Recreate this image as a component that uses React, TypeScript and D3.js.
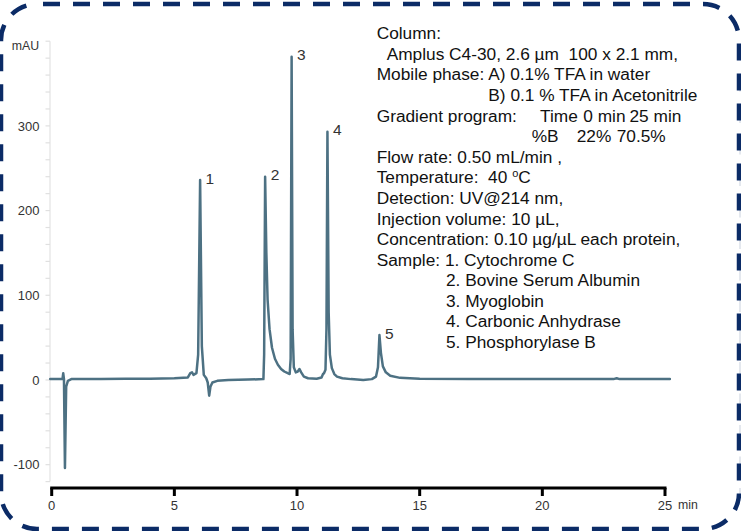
import React from "react";
import * as d3 from "d3";

// ---- data ----
const traceTimes = [
  -0.06, 0.44, 0.47, 0.5, 0.54, 0.59, 0.66, 0.8, 2.0, 3.0, 4.0, 5.0, 5.55, 5.65, 5.72, 5.78, 5.9, 5.97,
  6.05, 6.12, 6.2, 6.3, 6.36, 6.42, 6.47, 6.55, 6.75, 7.2, 8.0, 8.63, 8.66, 8.7, 8.75, 8.8, 8.88, 8.98,
  9.1, 9.22, 9.35, 9.48, 9.62, 9.7, 9.74, 9.78, 9.82, 9.87, 9.95, 10.03, 10.1, 10.17, 10.28, 10.45, 10.8,
  11.0, 11.06, 11.1, 11.16, 11.2, 11.24, 11.29, 11.34, 11.42, 11.52, 11.63, 11.85, 12.2, 12.7, 13.05,
  13.22, 13.3, 13.36, 13.42, 13.5, 13.62, 13.8, 14.2, 15.0, 17.0, 20.0, 22.9, 23.03, 23.15, 25.2,
];
const traceValues = [
  1, 1, 8, 1, -104, -8, -1, 1, 1, 1.5, 1.5, 2, 3, 8, 9, 6, 8, 30,
  236, 40, 6, 2, -3, -18.5, -8, -3, -1, 0, 0.5, 1, 30, 240, 150, 95, 60, 38,
  25, 18, 13, 10, 8, 7, 25, 381.7, 60, 15, 9, 10, 13, 9, 4, 2, 1.5,
  3, 7, 8, 12, 60, 293, 80, 30, 14, 7, 4, 2, 1, 0, 1,
  4, 15, 53, 32, 16, 9, 5, 2.5, 1.5, 1, 1, 1, 2, 1, 1,
];

const peakNumbers = ["1", "2", "3", "4", "5"];
const peakTimes = [6.05, 8.7, 9.78, 11.24, 13.36];
const peakHeights = [236, 240, 381.7, 293, 53];

const xTicks = [0, 5, 10, 15, 20, 25];
const yTicks = [300, 200, 100, 0, -100];
const yMinorTicks = d3.range(-120, 401, 20);
const xUnit = "min";
const yUnit = "mAU";

const conditionLines = [
  "Column:",
  "Amplus C4-30, 2.6 µm  100 x 2.1 mm,",
  "Mobile phase: A) 0.1% TFA in water",
  "B) 0.1 % TFA in Acetonitrile",
  "Gradient program:",
  "",
  "Flow rate: 0.50 mL/min ,",
  "Temperature:  40 ",
  "Detection: UV@214 nm,",
  "Injection volume: 10 µL,",
  "Concentration: 0.10 µg/µL each protein,",
  "Sample: 1. Cytochrome C",
  "2. Bovine Serum Albumin",
  "3. Myoglobin",
  "4. Carbonic Anhydrase",
  "5. Phosphorylase B",
];
const gradientHeader = ["Time", "0 min", "25 min"];
const gradientB = ["%B", "22%", "70.5%"];

// ---- layout ----
const W = 741;
const H = 531;
const FONT = "'Liberation Sans', Arial, sans-serif";
const conditionIndents = [0, 10, 0, 111.6, 0, 0, 0, 0, 0, 0, 0, 0, 69.3, 69.3, 69.3, 69.3];
const gradientHeaderX = [540, 583.3, 629.5];
const gradientBX = [531.7, 576.7, 616.7];

export default function App() {
  const x = d3.scaleLinear().domain([0, 25]).range([51.7, 665]);
  const y = d3.scaleLinear().domain([-120, 400]).range([481.6, 41.2]);

  const pts: [number, number][] = traceTimes.map((t, i) => [t, traceValues[i]]);
  const line = d3
    .line<[number, number]>()
    .x((d) => x(d[0]))
    .y((d) => y(d[1]))
    .curve(d3.curveLinear);

  const textX0 = 376.7;
  const textY0 = 39.3;
  const lineGap = 20.58;

  const sideMarks = d3.range(47, 495, 31.5);

  return (
    <svg
      width={W}
      height={H}
      viewBox={`0 0 ${W} ${H}`}
      style={{ position: "fixed", left: 0, top: 0, background: "#fff" }}
      fontFamily={FONT}
    >
      <rect x={0} y={0} width={W} height={H} fill="#fff" />

      {/* faint marks at the right edge */}
      {sideMarks.map((m, i) => (
        <rect key={i} x={739} y={m} width={2} height={13} fill="#e4e8ee" />
      ))}

      {/* y axis (light) */}
      <line x1={50} x2={50} y1={y(400)} y2={y(-120)} stroke="#e3e3e3" strokeWidth={1.2} />
      {yMinorTicks.map((v) => (
        <line key={v} x1={45.5} x2={50} y1={y(v)} y2={y(v)} stroke="#e0e0e0" strokeWidth={1.2} />
      ))}
      {yTicks.map((v) => (
        <text key={v} x={39.5} y={y(v)} dy="0.36em" textAnchor="end" fontSize={13} fill="#333">
          {v}
        </text>
      ))}
      <text x={11.7} y={50.3} fontSize={12.3} fill="#333">
        {yUnit}
      </text>

      {/* x axis */}
      <line x1={x(0) - 1.5} x2={x(25) + 1.5} y1={488} y2={488} stroke="#000" strokeWidth={3} />
      {xTicks.map((t) => (
        <g key={t}>
          <line x1={x(t)} x2={x(t)} y1={488} y2={496} stroke="#000" strokeWidth={3} />
          <text x={x(t)} y={505} dy="0.36em" textAnchor="middle" fontSize={13} fill="#333">
            {t}
          </text>
        </g>
      ))}
      <text x={678} y={505} dy="0.36em" fontSize={12.3} fill="#333">
        {xUnit}
      </text>

      {/* trace */}
      <path
        d={line(pts) || ""}
        fill="none"
        stroke="#4d7183"
        strokeWidth={2.5}
        strokeLinejoin="round"
        strokeLinecap="round"
      />

      {/* peak labels */}
      {peakNumbers.map((n, i) => (
        <text
          key={n}
          x={x(peakTimes[i]) + 5.5}
          y={y(peakHeights[i]) - 2}
          dy="0.36em"
          fontSize={15.5}
          fill="#333"
        >
          {n}
        </text>
      ))}

      {/* conditions text */}
      <g fontSize={17.3} fill="#111" style={{ whiteSpace: "pre" }}>
        {conditionLines.map((s, i) =>
          s ? (
            <text key={i} x={textX0 + conditionIndents[i]} y={textY0 + i * lineGap} style={{ whiteSpace: "pre" }}>
              {s}
              {i === 7 ? (
                <>
                  <tspan fontSize={11} dy={-6}>
                    o
                  </tspan>
                  <tspan dy={6}>C</tspan>
                </>
              ) : null}
            </text>
          ) : null
        )}
        {gradientHeader.map((s, j) => (
          <text key={"gh" + j} x={gradientHeaderX[j]} y={textY0 + 4 * lineGap}>
            {s}
          </text>
        ))}
        {gradientB.map((s, j) => (
          <text key={"gb" + j} x={gradientBX[j]} y={textY0 + 5 * lineGap}>
            {s}
          </text>
        ))}
      </g>

      {/* dashed rounded border */}
      <rect
        x={1}
        y={4}
        width={738}
        height={525}
        rx={36}
        ry={36}
        fill="none"
        stroke="#0b2b66"
        strokeWidth={4.5}
        strokeDasharray="17 13"
        strokeDashoffset={-6}
      />
    </svg>
  );
}
